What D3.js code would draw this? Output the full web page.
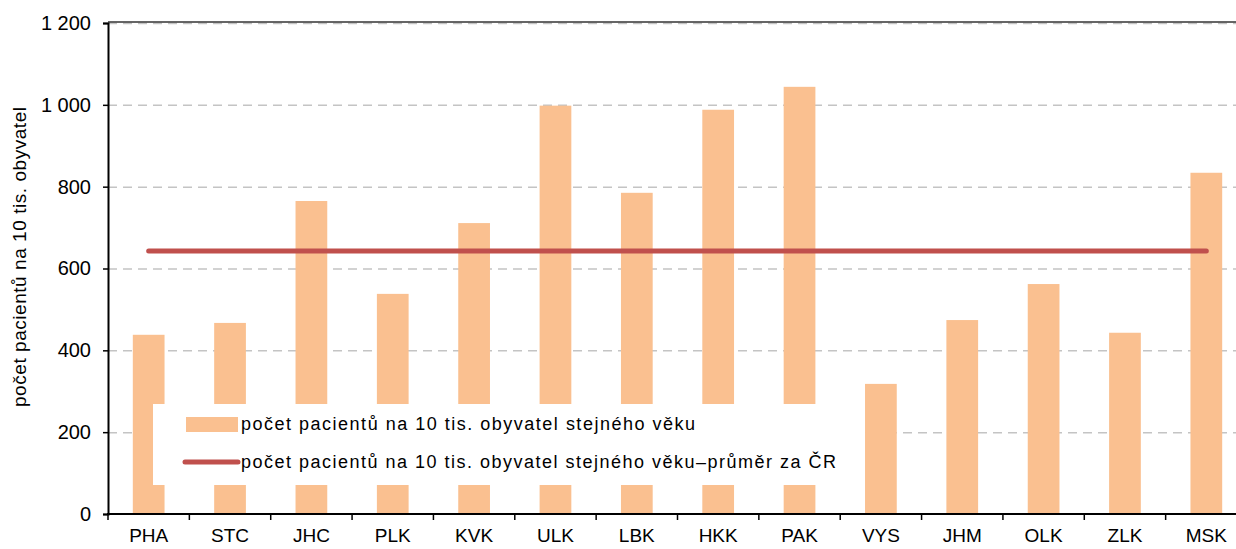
<!DOCTYPE html>
<html>
<head>
<meta charset="utf-8">
<script src="https://cdn.jsdelivr.net/npm/d3@7.9.0/dist/d3.min.js"></script>
<style>
  html, body { margin: 0; padding: 0; background: #fff; }
  svg { display: block; font-family: Arial, "Liberation Sans", sans-serif; }
</style>
</head>
<body>
<div id="chart"></div>
<script>
// ---- data ----
const regions = ['PHA', 'STC', 'JHC', 'PLK', 'KVK', 'ULK', 'LBK', 'HKK', 'PAK', 'VYS', 'JHM', 'OLK', 'ZLK', 'MSK'];
const patientsPer10k = [438, 467, 765, 538, 711, 998, 785, 988, 1044, 318, 474, 562, 443, 834];
const czAverage = 643;
const yTicks = [0, 200, 400, 600, 800, 1000, 1200];
const seriesLabels = [
  'počet pacientů na 10 tis. obyvatel stejného věku',
  'počet pacientů na 10 tis. obyvatel stejného věku–průměr za ČR'
];
const yTitle = 'počet pacientů na 10 tis. obyvatel';

const W = 1236, H = 549;
const plotLeft = 108, plotRight = 1247, plotTop = 23, plotBottom = 514;

const svg = d3.select('#chart').append('svg')
  .attr('width', W).attr('height', H);

const x = d3.scaleBand().domain(regions).range([plotLeft, plotRight])
  .paddingInner(0.61).paddingOuter(0.305);
const step = x.step();
const y = d3.scaleLinear().domain([0, 1200]).range([plotBottom, plotTop]);

// gridlines
svg.append('g').selectAll('line')
  .data(yTicks.filter(d => d > 0))
  .join('line')
  .attr('x1', plotLeft).attr('x2', W)
  .attr('y1', d => y(d) + 0.5).attr('y2', d => y(d) + 0.5)
  .attr('stroke', '#c4c4c4').attr('stroke-width', 1.5)
  .attr('stroke-dasharray', '9,6');

// top frame line
svg.append('line')
  .attr('x1', plotLeft).attr('x2', W)
  .attr('y1', plotTop - 1).attr('y2', plotTop - 1)
  .attr('stroke', '#333').attr('stroke-width', 1.5);

// bars
svg.append('g').selectAll('rect')
  .data(regions)
  .join('rect')
  .attr('x', d => x(d))
  .attr('width', x.bandwidth())
  .attr('y', (d, i) => y(patientsPer10k[i]))
  .attr('height', (d, i) => y(0) - y(patientsPer10k[i]))
  .attr('fill', '#fac090');

// average line
const line = d3.line()
  .x(d => x(d) + x.bandwidth() / 2)
  .y(() => y(czAverage));
svg.append('path')
  .datum(regions)
  .attr('d', line)
  .attr('fill', 'none')
  .attr('stroke', '#c0504d')
  .attr('stroke-width', 5)
  .attr('stroke-linecap', 'round');

// y axis
const yAxis = d3.axisLeft(y).tickValues(yTicks).tickSize(5).tickPadding(12)
  .tickFormat(d => d >= 1000 ? d3.format(',')(d).replace(',', ' ') : d);
const gy = svg.append('g').attr('transform', `translate(${plotLeft},0)`).call(yAxis);
gy.select('.domain').attr('stroke', '#000').attr('stroke-width', 2);
gy.selectAll('.tick line').attr('stroke', '#000').attr('stroke-width', 1.5);
gy.selectAll('.tick text').attr('font-size', 20).attr('fill', '#000')
  .attr('font-family', 'Arial, "Liberation Sans", sans-serif');

// x axis
const xAxis = d3.axisBottom(x).tickSize(0).tickPadding(15);
const gx = svg.append('g').attr('transform', `translate(0,${plotBottom})`).call(xAxis);
gx.select('.domain').remove();
gx.selectAll('.tick text').attr('font-size', 19).attr('fill', '#000')
  .attr('font-family', 'Arial, "Liberation Sans", sans-serif');
gx.append('line')
  .attr('x1', plotLeft - 1).attr('x2', W)
  .attr('stroke', '#000').attr('stroke-width', 2);
gx.selectAll('.bnd')
  .data(d3.range(regions.length + 1))
  .join('line')
  .attr('class', 'bnd')
  .attr('x1', i => plotLeft + i * step).attr('x2', i => plotLeft + i * step)
  .attr('y1', 0).attr('y2', 6)
  .attr('stroke', '#000').attr('stroke-width', 1.5);

// y title
svg.append('text')
  .attr('transform', `translate(26,257) rotate(-90)`)
  .attr('text-anchor', 'middle')
  .attr('font-size', 19)
  .attr('fill', '#000')
  .attr('textLength', 300)
  .attr('lengthAdjust', 'spacing')
  .text(yTitle);

// legend
const lg = svg.append('g');
lg.append('rect')
  .attr('x', 153).attr('y', 404).attr('width', 712).attr('height', 81)
  .attr('fill', '#fff');
lg.append('rect')
  .attr('x', 186).attr('y', 417).attr('width', 52).attr('height', 15)
  .attr('fill', '#fac090');
lg.append('line')
  .attr('x1', 185).attr('x2', 238).attr('y1', 462).attr('y2', 462)
  .attr('stroke', '#c0504d').attr('stroke-width', 5).attr('stroke-linecap', 'round');
lg.selectAll('text')
  .data(seriesLabels)
  .join('text')
  .attr('x', 241)
  .attr('y', (d, i) => 430 + i * 38)
  .attr('font-size', 18)
  .attr('fill', '#000')
  .attr('textLength', (d, i) => i === 0 ? 454 : 595)
  .attr('lengthAdjust', 'spacing')
  .text(d => d);
</script>
</body>
</html>
